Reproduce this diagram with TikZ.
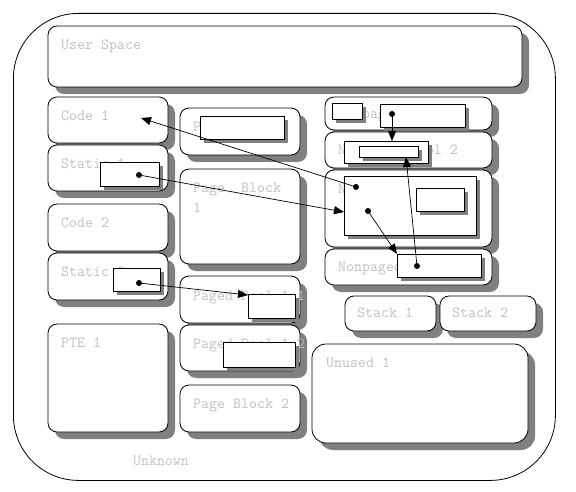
\documentclass[tikz,border=0pt]{standalone}
\usepackage{fontspec}
\usepackage{tikz}
\usetikzlibrary{arrows.meta,positioning,shadows,calc}
\definecolor{mGrey}{RGB}{192,192,192}
\definecolor{mShade}{RGB}{128,128,128}
\tikzset{
region/.style={rectangle,rounded corners=9pt,draw=black,line width=0.8pt,fill=white,inner sep=0pt,outer sep=0pt,anchor=north west,drop shadow={shadow xshift=7pt,shadow yshift=-7pt,fill=mShade,opacity=1}},
tag/.style={anchor=north west,font=\ttfamily\fontsize{15.5}{20}\selectfont,text=mGrey,inner sep=0pt,xshift=13pt,yshift=-14pt},
note/.style={font=\ttfamily\fontsize{15.5}{20}\selectfont,text=mGrey,inner sep=0pt},
slot/.style={rectangle,draw=black,line width=0.8pt,fill=white,inner sep=0pt,outer sep=0pt,anchor=north west,drop shadow={shadow xshift=4pt,shadow yshift=-4pt,fill=mShade,opacity=1}},
dot/.style={circle,fill=black,inner sep=0pt,minimum size=6pt},
link/.style={-{Triangle[length=10pt,width=8pt]},line width=0.7pt}
}
\begin{document}
\begin{tikzpicture}[x=1pt,y=-1pt]
\useasboundingbox (0,0) rectangle (576,492);
\node[draw,rounded corners=65pt,line width=0.8pt,inner sep=0pt,anchor=north west,minimum width=542pt,minimum height=467pt] (outer) at (13,13) {};
\node[note] (unknown) at (161,461) {Unknown};
% left column
\node[region,minimum width=474pt,minimum height=61pt,label={[tag]north west:User Space}] (user) at (48,26) {};
\node[region,minimum width=120pt,minimum height=46pt,label={[tag]north west:Code 1}] (code1) at (48,97) {};
\node[region,minimum width=120pt,minimum height=46pt,label={[tag]north west:Static 1}] (static1) at (48,145) {};
\node[region,minimum width=120pt,minimum height=47pt,label={[tag]north west:Code 2}] (code2) at (48,204) {};
\node[region,minimum width=120pt,minimum height=47pt,label={[tag]north west:Static 2}] (static2) at (48,253) {};
\node[region,minimum width=120pt,minimum height=108pt,label={[tag]north west:PTE 1}] (pte1) at (48,324) {};
% middle column
\node[region,minimum width=120pt,minimum height=47pt,label={[tag]north west:Page Block}] (pb0) at (180,108) {};
\node[region,minimum width=120pt,minimum height=95pt,label={[tag,align=left]north west:Page\ \ Block\\1}] (pb1) at (180,169) {};
\node[region,minimum width=120pt,minimum height=47pt,label={[tag,yshift=-1pt]north west:Paged Pool 1.1}] (pp11) at (180,276) {};
\node[region,minimum width=120pt,minimum height=46pt,label={[tag]north west:Paged Pool 1.2}] (pp12) at (180,325) {};
\node[region,minimum width=120pt,minimum height=47pt,label={[tag]north west:Page Block 2}] (pb2) at (180,385) {};
% right column
\node[region,minimum width=167pt,minimum height=33pt,label={[tag,yshift=2pt]north west:Nonpaged Pool 1}] (np1) at (325,97) {};
\node[region,minimum width=167pt,minimum height=36pt,label={[tag,yshift=1pt]north west:Nonpaged Pool 2}] (np2) at (325,132) {};
\node[region,minimum width=167pt,minimum height=77pt,label={[tag]north west:Nonpaged Pool 3}] (np3) at (325,170) {};
\node[region,minimum width=167pt,minimum height=36pt,label={[tag,yshift=1pt]north west:Nonpaged Pool 4}] (np4) at (325,249) {};
\node[region,minimum width=91pt,minimum height=35pt,label={[tag,xshift=-1pt,yshift=2pt]north west:Stack 1}] (stack1) at (345,296) {};
\node[region,minimum width=96pt,minimum height=35pt,label={[tag,xshift=-1pt,yshift=2pt]north west:Stack 2}] (stack2) at (440,296) {};
\node[region,minimum width=216pt,minimum height=99pt,rounded corners=14pt,label={[tag,xshift=1pt]north west:Unused 1}] (unused1) at (312,344) {};
% inner slots
\node[slot,minimum width=59pt,minimum height=24pt] (s1) at (100,162) {};
\node[slot,minimum width=47pt,minimum height=23pt] (s2) at (113,268) {};
\node[slot,minimum width=84pt,minimum height=23pt] (s3) at (200,116) {};
\node[slot,minimum width=47pt,minimum height=24pt] (s4) at (248,294) {};
\node[slot,minimum width=72pt,minimum height=25pt] (s5) at (223,342) {};
\node[slot,minimum width=30pt,minimum height=16pt] (s6) at (332,103) {};
\node[slot,minimum width=85pt,minimum height=23pt] (s7) at (380,104) {};
\node[slot,minimum width=84pt,minimum height=22pt] (s8) at (344,141) {};
\node[slot,minimum width=59pt,minimum height=11pt] (s9) at (359,146) {};
\node[slot,minimum width=132pt,minimum height=59pt] (s10) at (344,176) {};
\node[slot,minimum width=48pt,minimum height=23pt] (s11) at (416,188) {};
\node[slot,minimum width=84pt,minimum height=23pt] (s12) at (397,254) {};
% pointers
\node[dot] (d1) at (356,187) {};
\node[dot] (d2) at (368,211) {};
\node[dot] (d3) at (392,114) {};
\node[dot] (d4) at (417,266) {};
\node[dot] (d5) at (139,175) {};
\node[dot] (d6) at (139,283) {};
\coordinate (e1) at (141,118);
\coordinate (e5) at (406,157);
\draw[link] (d1.center) -- (e1);
\draw[link] (d5.center) -- ($(s10.north west)+(0,36)$);
\draw[link] (d3.center) -- (s8.north -| d3);
\draw[link] (d2.center) -- (s12.north west);
\draw[link] (d4.center) -- (e5);
\draw[link] (d6.center) -- ($(s4.north west)+(0,1)$);
\end{tikzpicture}
\end{document}
